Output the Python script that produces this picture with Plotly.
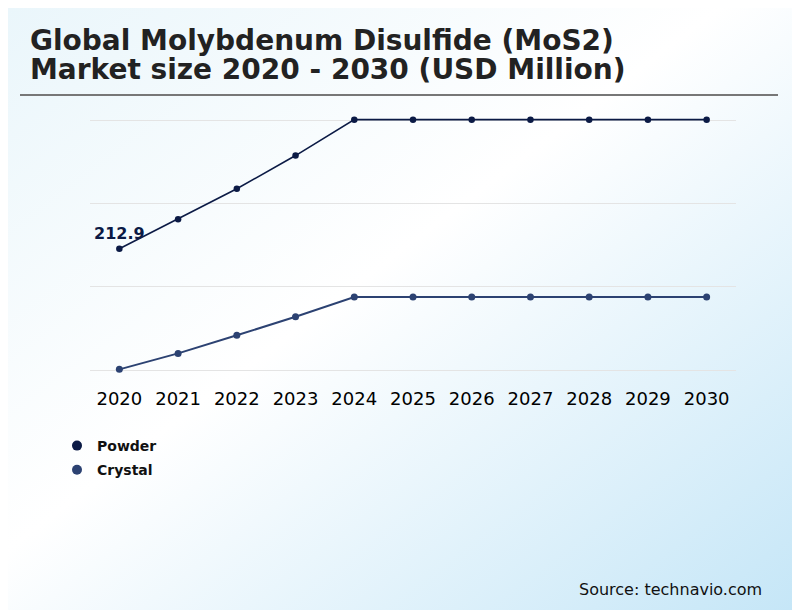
import base64
import plotly.graph_objects as go

# ---------------------------
# data
# ---------------------------
years = ['2020', '2021', '2022', '2023', '2024', '2025', '2026', '2027', '2028', '2029', '2030']
powder = [212.9, 230.7, 249.0, 269.0, 290.6, 290.6, 290.6, 290.6, 290.6, 290.6, 290.6]
crystal = [140.4, 150.0, 160.9, 172.0, 183.9, 183.9, 183.9, 183.9, 183.9, 183.9, 183.9]
grid_vals = [140, 190, 240, 290]

title_lines = ['Global Molybdenum Disulfide (MoS2)', 'Market size 2020 - 2030 (USD Million)']
source_text = 'Source: technavio.com'

powder_color = '#0b1a45'
crystal_color = '#2c4272'
font_family = 'DejaVu Sans'

# ---------------------------
# page geometry (the page body adds an 8px offset)
# ---------------------------
OFF = 8
W, H = 800 - OFF, 610 - OFF
L, T = 90 - OFF, 112 - OFF
R, B = W - (736 - OFF), H - (378 - OFF)
pw, ph = W - L - R, H - T - B


def px_x(x):
    # screen x -> paper
    return (x - OFF - L) / pw


def px_y(y):
    # screen y -> paper
    return (H - B - (y - OFF)) / ph


# background gradient as an svg image
svg = (
    '<svg xmlns="http://www.w3.org/2000/svg" width="800" height="610" preserveAspectRatio="none">'
    '<defs><linearGradient id="g" x1="0" y1="0" x2="1" y2="1">'
    '<stop offset="0" stop-color="#eaf6fb"/>'
    '<stop offset="0.45" stop-color="#ffffff"/>'
    '<stop offset="1" stop-color="#c5e6f7"/>'
    '</linearGradient></defs>'
    '<rect width="800" height="610" fill="url(#g)"/></svg>'
)
bg_src = 'data:image/svg+xml;base64,' + base64.b64encode(svg.encode()).decode()

fig = go.Figure()

fig.add_trace(go.Scatter(
    x=years, y=powder, mode='lines+markers', name='Powder',
    line=dict(color=powder_color, width=1.6),
    marker=dict(size=6.5, color=powder_color),
    showlegend=False
))
fig.add_trace(go.Scatter(
    x=years, y=crystal, mode='lines+markers', name='Crystal',
    line=dict(color=crystal_color, width=2),
    marker=dict(size=7, color=crystal_color),
    showlegend=False
))

# legend entries: dots only
for name, color in [('Powder', powder_color), ('Crystal', crystal_color)]:
    fig.add_trace(go.Scatter(
        x=[None], y=[None], mode='markers', name=name,
        marker=dict(size=10, color=color), legendgroup=name
    ))

annotations = [
    dict(x=0, y=powder[0], text='<b>%.1f</b>' % powder[0], showarrow=False,
         yshift=15, font=dict(size=16, color=powder_color, family=font_family)),
    dict(x=px_x(28), y=px_y(40), xref='paper', yref='paper', xanchor='left', yanchor='middle',
         text='<b>%s</b>' % title_lines[0], showarrow=False,
         font=dict(size=28, color='#222222', family=font_family)),
    dict(x=px_x(28), y=px_y(69), xref='paper', yref='paper', xanchor='left', yanchor='middle',
         text='<b>%s</b>' % title_lines[1], showarrow=False,
         font=dict(size=28, color='#222222', family=font_family)),
    dict(x=px_x(764), y=px_y(589), xref='paper', yref='paper', xanchor='right', yanchor='middle',
         text=source_text, showarrow=False,
         font=dict(size=16, color='#111111', family=font_family)),
]

fig.update_layout(
    width=W, height=H,
    margin=dict(l=L, r=R, t=T, b=B, autoexpand=False),
    paper_bgcolor='white',
    plot_bgcolor='rgba(0,0,0,0)',
    font=dict(family=font_family, color='#000000'),
    showlegend=True,
    legend=dict(
        xref='container', yref='container', x=(57 - OFF) / W, y=1 - (430 - OFF) / H,
        xanchor='left', yanchor='top',
        bgcolor='rgba(0,0,0,0)', traceorder='grouped', tracegroupgap=3,
        font=dict(size=14, color='#111111', family=font_family, weight='bold'),
    ),
    images=[dict(
        source=bg_src, xref='paper', yref='paper',
        x=px_x(OFF), y=px_y(OFF), sizex=W / pw, sizey=H / ph,
        xanchor='left', yanchor='top', sizing='stretch', layer='below'
    )],
    shapes=[dict(
        type='line', xref='paper', yref='paper',
        x0=px_x(20), x1=px_x(778), y0=px_y(95), y1=px_y(95),
        line=dict(color='#777777', width=2)
    )],
    annotations=annotations,
)

fig.update_xaxes(
    type='category', range=[-0.5, 10.5], showgrid=False, zeroline=False, showline=False,
    ticks='outside', ticklen=4, tickcolor='rgba(0,0,0,0)',
    tickfont=dict(size=18, color='#000000', family=font_family),
)
fig.update_yaxes(
    range=[135.2, 295.2], tickvals=grid_vals, showticklabels=False,
    showgrid=True, gridcolor='#e4e4e4', gridwidth=1, zeroline=False, showline=False,
)

fig.write_html('out.html')
